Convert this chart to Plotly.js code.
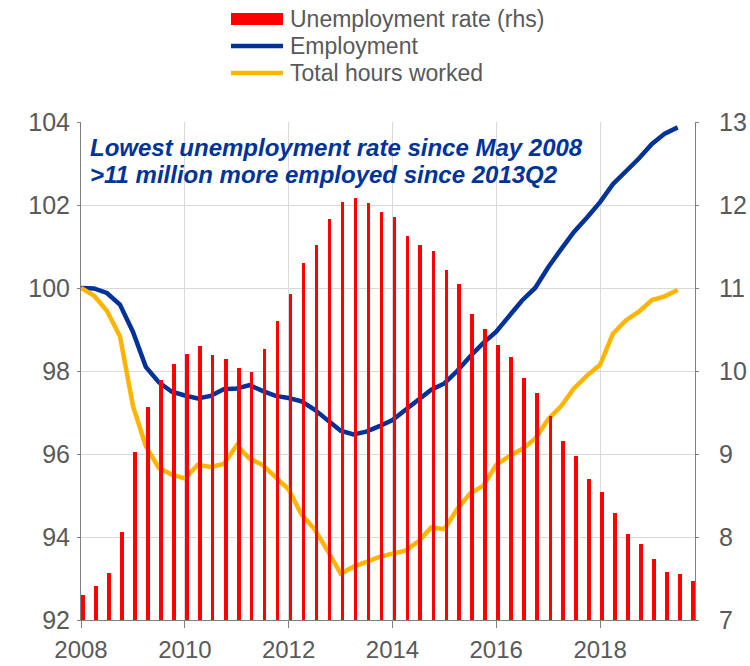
<!DOCTYPE html>
<html>
<head>
<meta charset="utf-8">
<script src="https://cdn.plot.ly/plotly-3.0.1.min.js"></script>
<style>
  html, body { margin: 0; padding: 0; background: #ffffff; }
  #chart { width: 750px; height: 666px; }
</style>
</head>
<body>
<div id="chart"></div>
<script>
// Quarterly observation dates (start of each quarter)
const quarters = [
  '2008-01-01','2008-04-01','2008-07-01','2008-10-01',
  '2009-01-01','2009-04-01','2009-07-01','2009-10-01',
  '2010-01-01','2010-04-01','2010-07-01','2010-10-01',
  '2011-01-01','2011-04-01','2011-07-01','2011-10-01',
  '2012-01-01','2012-04-01','2012-07-01','2012-10-01',
  '2013-01-01','2013-04-01','2013-07-01','2013-10-01',
  '2014-01-01','2014-04-01','2014-07-01','2014-10-01',
  '2015-01-01','2015-04-01','2015-07-01','2015-10-01',
  '2016-01-01','2016-04-01','2016-07-01','2016-10-01',
  '2017-01-01','2017-04-01','2017-07-01','2017-10-01',
  '2018-01-01','2018-04-01','2018-07-01','2018-10-01',
  '2019-01-01','2019-04-01','2019-07-01','2019-10-01'
];

// Unemployment rate, % (right-hand scale), 2008Q1 - 2019Q4
const unemploymentRate = [
  7.30, 7.41, 7.57, 8.06, 9.02, 9.57, 9.89, 10.09,
  10.20, 10.30, 10.19, 10.15, 10.04, 9.99, 10.26, 10.60,
  10.93, 11.30, 11.52, 11.83, 12.04, 12.08, 12.03, 11.92,
  11.86, 11.63, 11.52, 11.45, 11.22, 11.05, 10.69, 10.51,
  10.31, 10.17, 9.92, 9.73, 9.46, 9.16, 8.97, 8.70,
  8.54, 8.29, 8.04, 7.92, 7.74, 7.58, 7.56, 7.47
];

// Employment index (2008Q1 = 100), 2008Q1 - 2019Q3
const employment = [
  100.0, 99.99, 99.88, 99.60, 98.94, 98.10, 97.73, 97.50,
  97.41, 97.34, 97.40, 97.56, 97.58, 97.66, 97.52, 97.40,
  97.35, 97.27, 97.07, 96.80, 96.56, 96.47, 96.54, 96.67,
  96.82, 97.06, 97.32, 97.55, 97.70, 98.00, 98.35, 98.67,
  98.95, 99.33, 99.70, 100.0, 100.50, 100.93, 101.35, 101.70,
  102.07, 102.50, 102.80, 103.12, 103.47, 103.72, 103.87
];

// Total hours worked index (2008Q1 = 100), 2008Q1 - 2019Q3
const hoursWorked = [
  100.0, 99.82, 99.45, 98.84, 97.15, 96.19, 95.67, 95.50,
  95.41, 95.74, 95.69, 95.76, 96.21, 95.89, 95.74, 95.45,
  95.15, 94.54, 94.19, 93.67, 93.12, 93.28, 93.41, 93.52,
  93.60, 93.67, 93.89, 94.23, 94.19, 94.67, 95.05, 95.23,
  95.74, 95.95, 96.12, 96.37, 96.84, 97.15, 97.58, 97.89,
  98.15, 98.90, 99.22, 99.43, 99.71, 99.80, 99.95
];

const seriesNames = ['Unemployment rate (rhs)', 'Employment', 'Total hours worked'];
const noteLines = ['Lowest unemployment rate since May 2008', '>11 million more employed since 2013Q2'];
const xTickVals = ['2008-01-01','2010-01-01','2012-01-01','2014-01-01','2016-01-01','2018-01-01'];
const xTickText = ['2008','2010','2012','2014','2016','2018'];

const FONT = 'Arial, "Liberation Sans", Helvetica, sans-serif';
const GREY = '#595959';
const RED = '#ff0000';
const BLUE = '#003299';
const YELLOW = '#ffb400';
const DAY = 86400000;

const traces = [
  {
    type: 'bar', name: seriesNames[0],
    x: quarters, y: unemploymentRate, yaxis: 'y2',
    marker: { color: RED, line: { width: 0 } },
    width: 25 * DAY, offset: 2 * DAY,
    hoverinfo: 'x+y'
  },
  {
    type: 'scatter', mode: 'lines', name: seriesNames[1],
    x: quarters.slice(0, employment.length), y: employment,
    line: { color: BLUE, width: 4.5 }
  },
  {
    type: 'scatter', mode: 'lines', name: seriesNames[2],
    x: quarters.slice(0, hoursWorked.length), y: hoursWorked,
    line: { color: YELLOW, width: 4.5 }
  }
];

// custom legend (paper coordinates)
const lgX0 = 0.2443, lgX1 = 0.3290, lgTx = 0.3371;
const lgY = [1.2068, 1.1526, 1.0984];

const shapes = [
  { type: 'rect', xref: 'paper', yref: 'paper', x0: lgX0, x1: lgX1,
    y0: lgY[0] - 0.0121, y1: lgY[0] + 0.0121, fillcolor: RED, line: { width: 0 } },
  { type: 'line', xref: 'paper', yref: 'paper', x0: lgX0, x1: lgX1,
    y0: lgY[1], y1: lgY[1], line: { color: BLUE, width: 4.5 } },
  { type: 'line', xref: 'paper', yref: 'paper', x0: lgX0, x1: lgX1,
    y0: lgY[2], y1: lgY[2], line: { color: YELLOW, width: 4.5 } }
];

const annotations = seriesNames.map((n, i) => ({
  xref: 'paper', yref: 'paper', x: lgTx, y: lgY[i],
  xanchor: 'left', yanchor: 'middle', showarrow: false,
  text: n, font: { family: FONT, size: 23, color: GREY }
}));

const noteY = [0.9497, 0.8955];
noteLines.forEach((t, i) => {
  annotations.push({
    xref: 'paper', yref: 'paper', x: 0.011, y: noteY[i],
    xanchor: 'left', yanchor: 'middle', align: 'left', showarrow: false,
    text: '<b><i>' + t.replace('>', '&gt;') + '</i></b>',
    font: { family: FONT, size: 24, color: '#003399' }
  });
});

const layout = {
  width: 750, height: 666,
  margin: { l: 81, r: 55, t: 122, b: 46, pad: 0 },
  paper_bgcolor: '#ffffff', plot_bgcolor: '#ffffff',
  showlegend: false,
  bargap: 0,
  font: { family: FONT, color: GREY, size: 25 },
  xaxis: {
    type: 'date',
    range: ['2008-01-01', '2019-10-31'],
    tickvals: xTickVals,
    ticktext: xTickText,
    showgrid: true, gridcolor: '#d9d9d9', gridwidth: 1,
    showline: true, linecolor: '#808080', linewidth: 1,
    ticks: 'outside', ticklen: 7, tickcolor: '#808080',
    ticklabelstandoff: 1,
    tickfont: { family: FONT, size: 24, color: GREY },
    zeroline: false, fixedrange: true
  },
  yaxis: {
    range: [92, 104], dtick: 2, tick0: 92,
    showgrid: true, gridcolor: '#d9d9d9', gridwidth: 1,
    showline: true, linecolor: '#808080', linewidth: 1,
    ticks: 'outside', ticklen: 3, tickcolor: '#808080',
    ticklabelstandoff: 2,
    tickfont: { family: FONT, size: 25, color: GREY },
    zeroline: false, fixedrange: true
  },
  yaxis2: {
    range: [7, 13], dtick: 1, tick0: 7,
    overlaying: 'y', side: 'right',
    showgrid: false,
    showline: true, linecolor: '#808080', linewidth: 1,
    ticks: 'outside', ticklen: 3, tickcolor: '#808080',
    ticklabelstandoff: 15,
    tickfont: { family: FONT, size: 25, color: GREY },
    zeroline: false, fixedrange: true
  },
  shapes: shapes,
  annotations: annotations
};

Plotly.newPlot('chart', traces, layout, { displayModeBar: false, staticPlot: true });
</script>
</body>
</html>
